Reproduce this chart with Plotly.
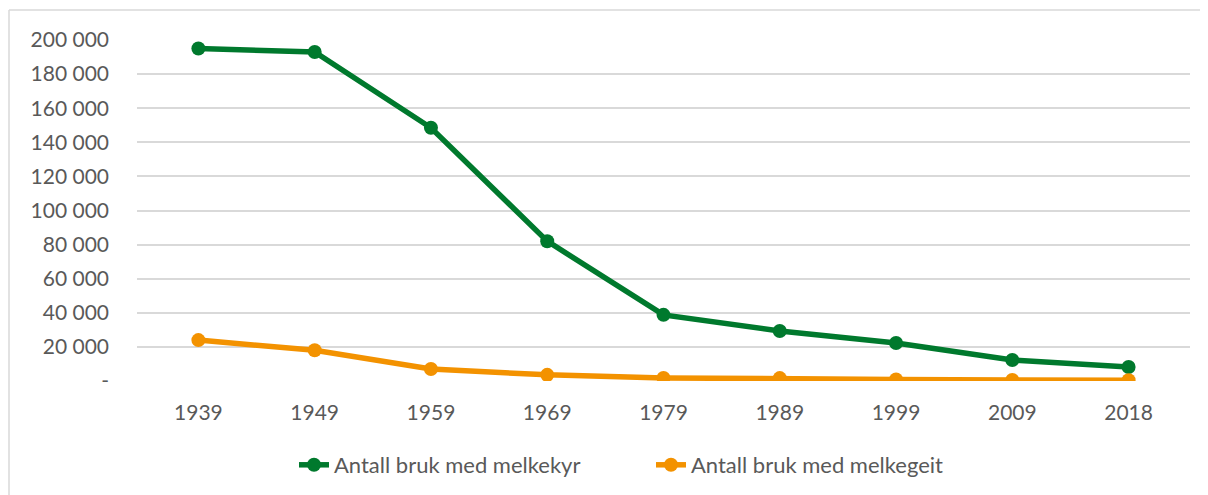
import plotly.graph_objects as go

years = ["1939", "1949", "1959", "1969", "1979", "1989", "1999", "2009", "2018"]
kyr = [195000, 193000, 148500, 82000, 38800, 29300, 22300, 12300, 8200]
geit = [24000, 18000, 7000, 3600, 1800, 1700, 900, 600, 500]

ytick_vals = [0, 20000, 40000, 60000, 80000, 100000, 120000, 140000, 160000, 180000, 200000]
ytick_text = ["-", "20 000", "40 000", "60 000", "80 000", "100 000", "120 000", "140 000", "160 000", "180 000", "200 000"]

green = "#00792D"
orange = "#F39200"
txt = "#595959"
grid = "#D9D9D9"

OFF = 8  # default page body margin
W, H = 1208 - OFF, 495 - OFF
L = 137 - OFF
R = W - (1190 - OFF)
T = 40 - OFF
B = H - (381 - OFF)
pw, ph = W - L - R, H - T - B

def px_x(sx):
    return (sx - OFF - L) / pw

def px_y(sy):
    return (H - B - (sy - OFF)) / ph

fig = go.Figure()
fig.add_trace(go.Scatter(x=years, y=kyr, mode="lines+markers", name="Antall bruk med melkekyr",
                         line=dict(color=green, width=5.5), marker=dict(size=14, color=green)))
fig.add_trace(go.Scatter(x=years, y=geit, mode="lines+markers", name="Antall bruk med melkegeit",
                         line=dict(color=orange, width=5.5), marker=dict(size=14, color=orange)))

fig.update_layout(
    width=W, height=H,
    margin=dict(l=L, r=R, t=T, b=B, autoexpand=False),
    paper_bgcolor="white", plot_bgcolor="white",
    font=dict(family="Lato, Calibri, sans-serif", size=21, color=txt),
    showlegend=True,
    legend=dict(orientation="h", x=px_x(294), xanchor="left", y=px_y(465), yanchor="middle",
                entrywidth=312, entrywidthmode="pixels",
                font=dict(size=22, color=txt), bgcolor="rgba(0,0,0,0)"),
    xaxis=dict(type="category", showgrid=False, showline=False, zeroline=False, ticks="",
               ticklabelstandoff=17, tickfont=dict(size=21, color=txt)),
    yaxis=dict(range=[0, 200000], tickvals=ytick_vals, ticktext=ytick_text, showgrid=True,
               gridcolor=grid, gridwidth=1.5, zeroline=False, showline=False, ticks="",
               ticklabelstandoff=27, tickfont=dict(size=21, color=txt)),
    shapes=[
        dict(type="line", xref="paper", yref="paper", x0=px_x(9), x1=px_x(1215), y0=px_y(10), y1=px_y(10),
             line=dict(color=grid, width=1.5)),
        dict(type="line", xref="paper", yref="paper", x0=px_x(9), x1=px_x(9), y0=px_y(10), y1=px_y(500),
             line=dict(color=grid, width=1.5)),
    ],
)

fig.write_html("out.html")
